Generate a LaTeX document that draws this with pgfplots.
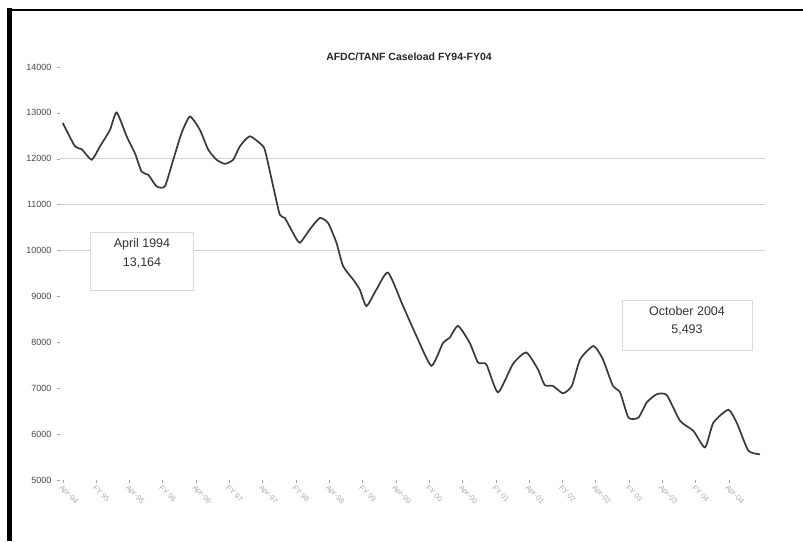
\documentclass[border=0pt]{standalone}
\usepackage{pgfplots}
\pgfplotsset{compat=1.18}
\usepackage{fontspec}
\setmainfont{Liberation Sans}

\definecolor{curve}{HTML}{3A3A3A}
\definecolor{labelgray}{HTML}{4A4A4A}

\begin{document}
\begin{tikzpicture}[x=1pt,y=1pt]
\fill[white] (0,0) rectangle (803,541);

\begin{axis}[
  at={(60pt,61pt)}, anchor=south west,
  scale only axis, width=705pt, height=413pt,
  xmin=-0.5, xmax=126.5, ymin=5000, ymax=14000,
  axis x line*=bottom, axis y line*=left,
  axis line style={draw=none},
  tick align=outside, major tick length=3pt,
  tick style={gray!70, thin},
  ytick={5000,6000,...,14000},
  yticklabel style={font=\fontsize{9}{10}\selectfont, text=labelgray, xshift=-2pt},
  scaled y ticks=false,
  /pgf/number format/.cd, 1000 sep={}, assume math mode=true, /pgfplots/.cd,
  xtick={0,6,...,120},
  xticklabels={Apr-94,FY 95,Apr-95,FY 96,Apr-96,FY 97,Apr-97,FY 98,Apr-98,FY 99,Apr-99,FY 00,Apr-00,FY 01,Apr-01,FY 02,Apr-02,FY 03,Apr-03,FY 04,Apr-04},
  xticklabel style={font=\fontsize{7.5}{8}\selectfont, text=gray!65, rotate=-45, anchor=north west, inner sep=1pt},
  extra y ticks={10000,11000,12000},
  extra y tick labels={},
  extra y tick style={grid=major, major tick length=0pt},
  major grid style={gray!35, line width=0.6pt},
  clip=false,
]
\addplot[curve, line width=1.7pt, smooth, tension=0.35] coordinates {
(0,12780) (2.2,12270) (3.4,12210) (5.2,11980) (6.7,12270) (8.5,12630)
(9.7,13010) (11.5,12490) (13,12120) (14.2,11720) (15.4,11650) (16.9,11400)
(18.4,11400) (19.9,11980) (21.4,12560) (22.9,12920) (24.7,12630) (26.2,12200)
(27.7,11980) (29.2,11890) (30.7,11980) (31.9,12270) (33.7,12490) (36.1,12270)
(36.7,12050) (37.9,11400) (39.1,10780) (40,10710) (41.5,10380) (42.7,10170)
(44.5,10460) (46.3,10710) (47.8,10600) (49.3,10170) (50.5,9660) (52.3,9370)
(53.5,9150) (54.7,8790) (56.5,9150) (58.6,9520) (61.3,8790) (63.7,8140)
(66.4,7490) (68.5,7990) (69.7,8100) (71.2,8360) (73.3,7990) (74.8,7560)
(76.3,7520) (78.4,6910) (81.1,7530) (83.5,7780) (85.6,7410) (86.8,7070)
(88.3,7050) (90.1,6890) (91.7,7050) (93.2,7630) (95.6,7920) (97.3,7630)
(99.1,7050) (100.4,6910) (101.9,6360) (103.7,6360) (105.2,6690) (107,6870)
(108.8,6850) (111.2,6290) (113.6,6070) (115.7,5710) (117.2,6250) (119.9,6530)
(121.4,6250) (123.5,5640) (125.6,5560)
};
\end{axis}

% title
\node[font=\fontsize{10.5}{12}\selectfont\bfseries, text=black!85] at (409,484) {AFDC/TANF Caseload FY94-FY04};

% annotation boxes
\draw[gray!30, line width=0.6pt, fill=white] (90,251) rectangle (193,309);
\node[font=\fontsize{12.5}{19}\selectfont, text=black!80, align=center] at (142,288) {April 1994\\13,164};
\draw[gray!30, line width=0.6pt, fill=white] (622,191) rectangle (752,241);
\node[font=\fontsize{12.5}{18}\selectfont, text=black!80, align=center] at (687,220) {October 2004\\5,493};

% scanned frame
\draw[black, line width=5pt] (9,0) -- (9,533);
\draw[black, line width=2.5pt] (6.5,531) -- (803,531);

\pgfresetboundingbox
\path (0,0) rectangle (803,541);
\end{tikzpicture}
\end{document}
